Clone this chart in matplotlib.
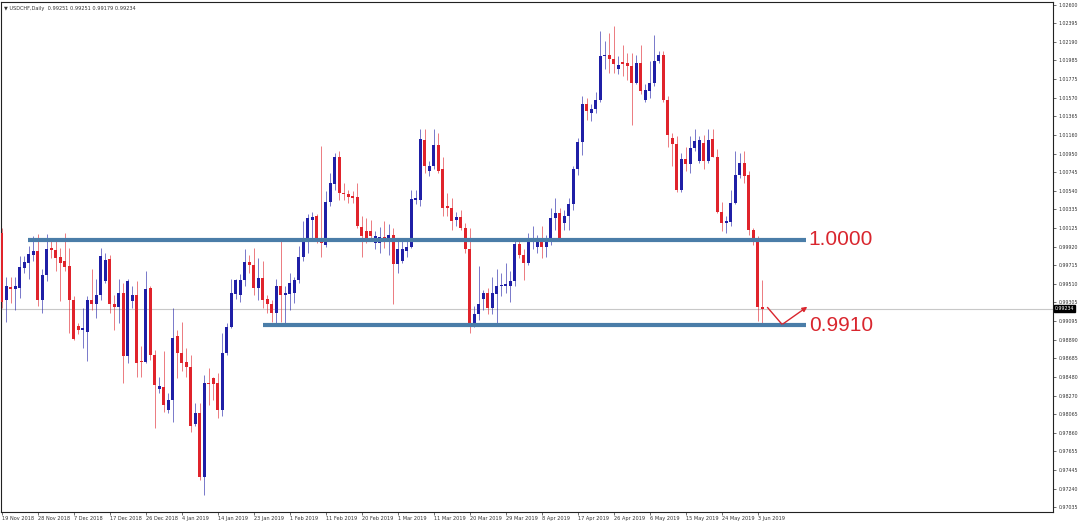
import numpy as np
import matplotlib
matplotlib.use("Agg")
from matplotlib import pyplot as plt

# daily USDCHF candles, 19 Nov 2018 .. 4 Jun 2019 (broker with Sunday bars)
opens = [
    1.0007, 0.9933, 0.9947, 0.9945, 0.9946, 0.9969, 0.9974, 0.9983, 0.9987, 0.9933,
    0.9961, 0.9991, 0.9988, 0.9981, 0.9976, 0.9971, 0.9933, 0.9904, 0.9900, 0.9898,
    0.9933, 0.9928, 0.9939, 0.9954, 0.9978, 0.9929, 0.9925, 0.9941, 0.9871, 0.9932,
    0.9939, 0.9865, 0.9864, 0.9946, 0.9872, 0.9834, 0.9837, 0.9811, 0.9822, 0.9893,
    0.9874, 0.9864, 0.9859, 0.9795, 0.9808, 0.9737, 0.9841, 0.9847, 0.9841, 0.9811,
    0.9874, 0.9903, 0.9940, 0.9939, 0.9955, 0.9975, 0.9972, 0.9946, 0.9957, 0.9934,
    0.9928, 0.9919, 0.9948, 0.9939, 0.9940, 0.9941, 0.9955, 0.9981, 0.9998, 1.0022,
    1.0026, 1.0001, 0.9994, 1.0042, 1.0062, 1.0091, 1.0052, 1.0050, 1.0048, 1.0047,
    1.0014, 1.0010, 1.0010, 0.9996, 0.9996, 1.0003, 0.9998, 1.0005, 0.9973, 0.9976,
    0.9987, 0.9992, 1.0044, 1.0044, 1.0110, 1.0076, 1.0081, 1.0105, 1.0078, 1.0037,
    1.0035, 1.0022, 1.0025, 1.0013, 0.9989, 0.9906, 0.9917, 0.9934, 0.9941, 0.9924,
    0.9940, 0.9948, 0.9949, 0.9948, 0.9954, 0.9995, 0.9983, 0.9974, 0.9998, 0.9992,
    1.0002, 0.9992, 0.9998, 1.0024, 1.0029, 1.0018, 1.0026, 1.0039, 1.0078, 1.0108,
    1.0150, 1.0140, 1.0145, 1.0155, 1.0203, 1.0204, 1.0200, 1.0189, 1.0197, 1.0196,
    1.0192, 1.0174, 1.0196, 1.0155, 1.0165, 1.0174, 1.0198, 1.0204, 1.0155, 1.0112,
    1.0106, 1.0055, 1.0089, 1.0084, 1.0102, 1.0087, 1.0107, 1.0087, 1.0111, 1.0092,
    1.0031, 1.0018, 1.0019, 1.0041, 1.0071, 1.0085, 1.0071, 1.0011, 1.0000, 0.99251,
]
highs = [
    1.0013, 0.9959, 0.9958, 0.9958, 0.9982, 0.9982, 0.9993, 1.0004, 1.0006, 0.9967,
    1.0006, 0.9998, 0.9998, 0.9991, 1.0007, 0.9991, 0.9937, 0.9908, 0.9924, 0.9937,
    0.9967, 0.9956, 0.9991, 0.9985, 0.9983, 0.9939, 0.9956, 0.9952, 0.9956, 0.9948,
    0.9954, 0.9882, 0.9965, 0.9948, 0.9878, 0.9848, 0.9876, 0.9830, 0.9924, 0.9900,
    0.9909, 0.9880, 0.9872, 0.9819, 0.9819, 0.9850, 0.9858, 0.9848, 0.9852, 0.9896,
    0.9908, 0.9956, 0.9956, 0.9962, 0.9989, 0.9983, 0.9991, 0.9980, 0.9976, 0.9939,
    0.9933, 0.9956, 0.9998, 0.9948, 0.9963, 0.9958, 0.9993, 1.0020, 1.0028, 1.0031,
    1.0028, 1.0104, 1.0054, 1.0074, 1.0096, 1.0098, 1.0063, 1.0055, 1.0054, 1.0063,
    1.0026, 1.0024, 1.0022, 1.0009, 1.0014, 1.0020, 1.0017, 1.0013, 1.0000, 1.0000,
    1.0000, 1.0055, 1.0055, 1.0122, 1.0122, 1.0087, 1.0122, 1.0118, 1.0091, 1.0052,
    1.0046, 1.0031, 1.0033, 1.0018, 1.0013, 0.9926, 0.9971, 0.9944, 0.9946, 0.9959,
    0.9967, 0.9963, 0.9974, 0.9965, 1.0000, 1.0000, 0.9989, 1.0007, 1.0015, 1.0005,
    1.0015, 1.0005, 1.0035, 1.0046, 1.0035, 1.0033, 1.0046, 1.0081, 1.0113, 1.0159,
    1.0157, 1.0150, 1.0163, 1.0231, 1.0220, 1.0229, 1.0237, 1.0203, 1.0216, 1.0207,
    1.0207, 1.0205, 1.0216, 1.0172, 1.0198, 1.0227, 1.0209, 1.0209, 1.0159, 1.0118,
    1.0115, 1.0096, 1.0103, 1.0115, 1.0122, 1.0115, 1.0116, 1.0122, 1.0122, 1.0100,
    1.0042, 1.0026, 1.0055, 1.0098, 1.0096, 1.0098, 1.0076, 1.0013, 1.0004, 0.9955,
]
lows = [
    0.9924, 0.9909, 0.9930, 0.9922, 0.9935, 0.9963, 0.9956, 0.9976, 0.9926, 0.9919,
    0.9954, 0.9980, 0.9965, 0.9932, 0.9965, 0.9896, 0.9889, 0.9895, 0.9880, 0.9865,
    0.9922, 0.9913, 0.9933, 0.9952, 0.9919, 0.9900, 0.9908, 0.9841, 0.9863, 0.9924,
    0.9848, 0.9848, 0.9863, 0.9867, 0.9791, 0.9830, 0.9809, 0.9808, 0.9798, 0.9847,
    0.9854, 0.9848, 0.9787, 0.9793, 0.9734, 0.9717, 0.9817, 0.9822, 0.9802, 0.9804,
    0.9872, 0.9902, 0.9934, 0.9931, 0.9948, 0.9963, 0.9939, 0.9933, 0.9924, 0.9919,
    0.9909, 0.9907, 0.9909, 0.9907, 0.9922, 0.9930, 0.9952, 0.9976, 0.9985, 1.0000,
    0.9996, 0.9981, 0.9992, 1.0037, 1.0055, 1.0044, 1.0044, 1.0041, 1.0041, 1.0013,
    0.9981, 0.9996, 0.9998, 0.9989, 0.9985, 0.9991, 0.9983, 0.9928, 0.9963, 0.9974,
    0.9981, 0.9991, 1.0039, 1.0037, 1.0074, 1.0070, 1.0078, 1.0074, 1.0026, 1.0026,
    1.0011, 1.0015, 1.0011, 0.9985, 0.9896, 0.9903, 0.9911, 0.9922, 0.9918, 0.9918,
    0.9906, 0.9937, 0.9941, 0.9931, 0.9948, 0.9980, 0.9955, 0.9972, 0.9989, 0.9985,
    0.9980, 0.9981, 0.9994, 1.0011, 0.9998, 1.0011, 1.0011, 1.0033, 1.0072, 1.0094,
    1.0133, 1.0131, 1.0140, 1.0153, 1.0189, 1.0185, 1.0185, 1.0183, 1.0181, 1.0177,
    1.0127, 1.0172, 1.0161, 1.0152, 1.0157, 1.0170, 1.0196, 1.0153, 1.0103, 1.0081,
    1.0053, 1.0053, 1.0076, 1.0074, 1.0098, 1.0085, 1.0078, 1.0085, 1.0091, 1.0029,
    1.0009, 1.0007, 1.0015, 1.0039, 1.0068, 1.0063, 1.0005, 0.9994, 0.9910, 0.9906,
]
closes = [
    0.9931, 0.9948, 0.9945, 0.9948, 0.9970, 0.9975, 0.9984, 0.9987, 0.9933, 0.9961,
    0.9989, 0.9988, 0.9980, 0.9974, 0.9970, 0.9933, 0.9890, 0.9900, 0.9902, 0.9933,
    0.9928, 0.9939, 0.9982, 0.9977, 0.9928, 0.9925, 0.9941, 0.9871, 0.9954, 0.9939,
    0.9863, 0.9864, 0.9945, 0.9872, 0.9839, 0.9838, 0.9817, 0.9822, 0.9891, 0.9874,
    0.9863, 0.9859, 0.9793, 0.9808, 0.9737, 0.9841, 0.9840, 0.9840, 0.9811, 0.9874,
    0.9903, 0.9941, 0.9955, 0.9955, 0.9975, 0.9972, 0.9946, 0.9957, 0.9933, 0.9928,
    0.9919, 0.9948, 0.9939, 0.9941, 0.9952, 0.9955, 0.9981, 0.9998, 1.0024, 1.0025,
    1.0000, 0.9996, 1.0042, 1.0063, 1.0091, 1.0052, 1.0050, 1.0047, 1.0046, 1.0015,
    1.0004, 1.0002, 1.0004, 1.0004, 1.0003, 0.9998, 1.0005, 0.9973, 0.9989, 0.9989,
    0.9992, 1.0045, 1.0046, 1.0111, 1.0081, 1.0081, 1.0105, 1.0076, 1.0035, 1.0035,
    1.0020, 1.0025, 1.0013, 0.9989, 0.9907, 0.9917, 0.9928, 0.9941, 0.9924, 0.9941,
    0.9948, 0.9950, 0.9951, 0.9954, 0.9995, 0.9983, 0.9974, 1.0000, 1.0002, 1.0002,
    0.9992, 0.9998, 1.0024, 1.0029, 1.0000, 1.0026, 1.0039, 1.0078, 1.0108, 1.0150,
    1.0142, 1.0145, 1.0155, 1.0203, 1.0205, 1.0200, 1.0195, 1.0194, 1.0195, 1.0192,
    1.0174, 1.0196, 1.0165, 1.0166, 1.0174, 1.0198, 1.0204, 1.0155, 1.0116, 1.0106,
    1.0055, 1.0089, 1.0084, 1.0102, 1.0109, 1.0110, 1.0087, 1.0110, 1.0092, 1.0031,
    1.0018, 1.0020, 1.0041, 1.0071, 1.0085, 1.0070, 1.0011, 1.0000, 0.9925, 0.99234,
]

date_labels = [
    "19 Nov 2018", "28 Nov 2018", "7 Dec 2018", "17 Dec 2018", "26 Dec 2018",
    "4 Jan 2019", "14 Jan 2019", "23 Jan 2019", "1 Feb 2019", "11 Feb 2019",
    "20 Feb 2019", "1 Mar 2019", "11 Mar 2019", "20 Mar 2019", "29 Mar 2019",
    "8 Apr 2019", "17 Apr 2019", "26 Apr 2019", "6 May 2019", "15 May 2019",
    "24 May 2019", "3 Jun 2019",
]
price_ticks = [
    1.02600, 1.02395, 1.02190, 1.01985, 1.01775, 1.01570, 1.01365, 1.01160,
    1.00950, 1.00745, 1.00540, 1.00335, 1.00125, 0.99920, 0.99715, 0.99510,
    0.99305, 0.99095, 0.98890, 0.98685, 0.98480, 0.98270, 0.98065, 0.97860,
    0.97655, 0.97445, 0.97240, 0.97035,
]

level_hi, level_lo = 1.0000, 0.9905
level_hi_txt, level_lo_txt = "1.0000", "0.9910"
last_price = 0.99234

BULL = "#1f1fa6"
BEAR = "#e0232b"
LEVEL = "#4a7da8"
NOTE = "#d9262e"

fig = plt.figure(figsize=(10.8, 5.21), dpi=100)
fig.set_facecolor("white")
ax = fig.add_axes([1 / 1080, 9 / 521, 1052 / 1080, 510 / 521])

o = np.array(opens)
h = np.array(highs)
l = np.array(lows)
c = np.array(closes)
x = np.arange(len(o))
up = c >= o
colors = np.where(up, BULL, BEAR)

# wicks
ax.vlines(x, l, h, colors=colors, linewidth=0.7, alpha=0.6, zorder=2)
# bodies
bottom = np.minimum(o, c)
height = np.maximum(np.abs(c - o), 0.00009)
ax.bar(x, height, bottom=bottom, width=0.62, color=colors, linewidth=0, zorder=3)

# current price line
ax.axhline(last_price, color="#c8c8c8", linewidth=0.8, zorder=1)

# support / resistance levels
ax.hlines(level_hi, 5.8, 178.7, colors=LEVEL, linewidth=3.0, zorder=4)
ax.hlines(level_lo, 58.1, 178.7, colors=LEVEL, linewidth=3.0, zorder=4)
ax.text(179.3, level_hi, level_hi_txt, color=NOTE, fontsize=15,
        family="Liberation Sans", va="center", ha="left")
ax.text(179.3, level_lo, level_lo_txt, color=NOTE, fontsize=15,
        family="Liberation Sans", va="center", ha="left")

# expected path arrow
ax.plot([170.2, 173.3], [0.99245, 0.99065], color=NOTE, linewidth=1.0, zorder=5)
ax.annotate("", xy=(179.0, 0.99255), xytext=(173.6, 0.99065),
            arrowprops=dict(arrowstyle="-|>", color=NOTE, lw=1.0,
                            mutation_scale=7, shrinkA=0, shrinkB=0), zorder=5)

ax.set_xlim(-0.16, 233.6)
ax.set_ylim(0.96980, 1.02633)

# axes in MT4 style: prices on the right, dates below
ax.yaxis.tick_right()
ax.set_yticks(price_ticks)
ax.set_yticklabels([f"{v:.5f}" for v in price_ticks])
ax.tick_params(axis="y", which="both", length=2, width=0.5, pad=2,
               labelsize=3.4, colors="#333333")
ax.set_xticks(np.arange(len(date_labels)) * 8)
ax.set_xticklabels(date_labels, ha="left")
ax.tick_params(axis="x", length=2, width=0.5, pad=1, labelsize=3.6,
               colors="#333333")
for s in ax.spines.values():
    s.set_linewidth(0.8)
    s.set_color("#222222")

# price marker on the right scale
ax.text(1.0015, last_price, f"{last_price:.5f}", transform=ax.get_yaxis_transform(),
        fontsize=3.4, color="white", va="center", ha="left",
        bbox=dict(boxstyle="square,pad=0.15", fc="black", ec="black"))

# symbol header
ax.text(0.003, 0.993, "\u25bc USDCHF,Daily  0.99251 0.99251 0.99179 0.99234",
        transform=ax.transAxes, fontsize=3.6, color="#333333", va="top", ha="left")

fig.savefig("out.png", dpi=100, facecolor="white")
